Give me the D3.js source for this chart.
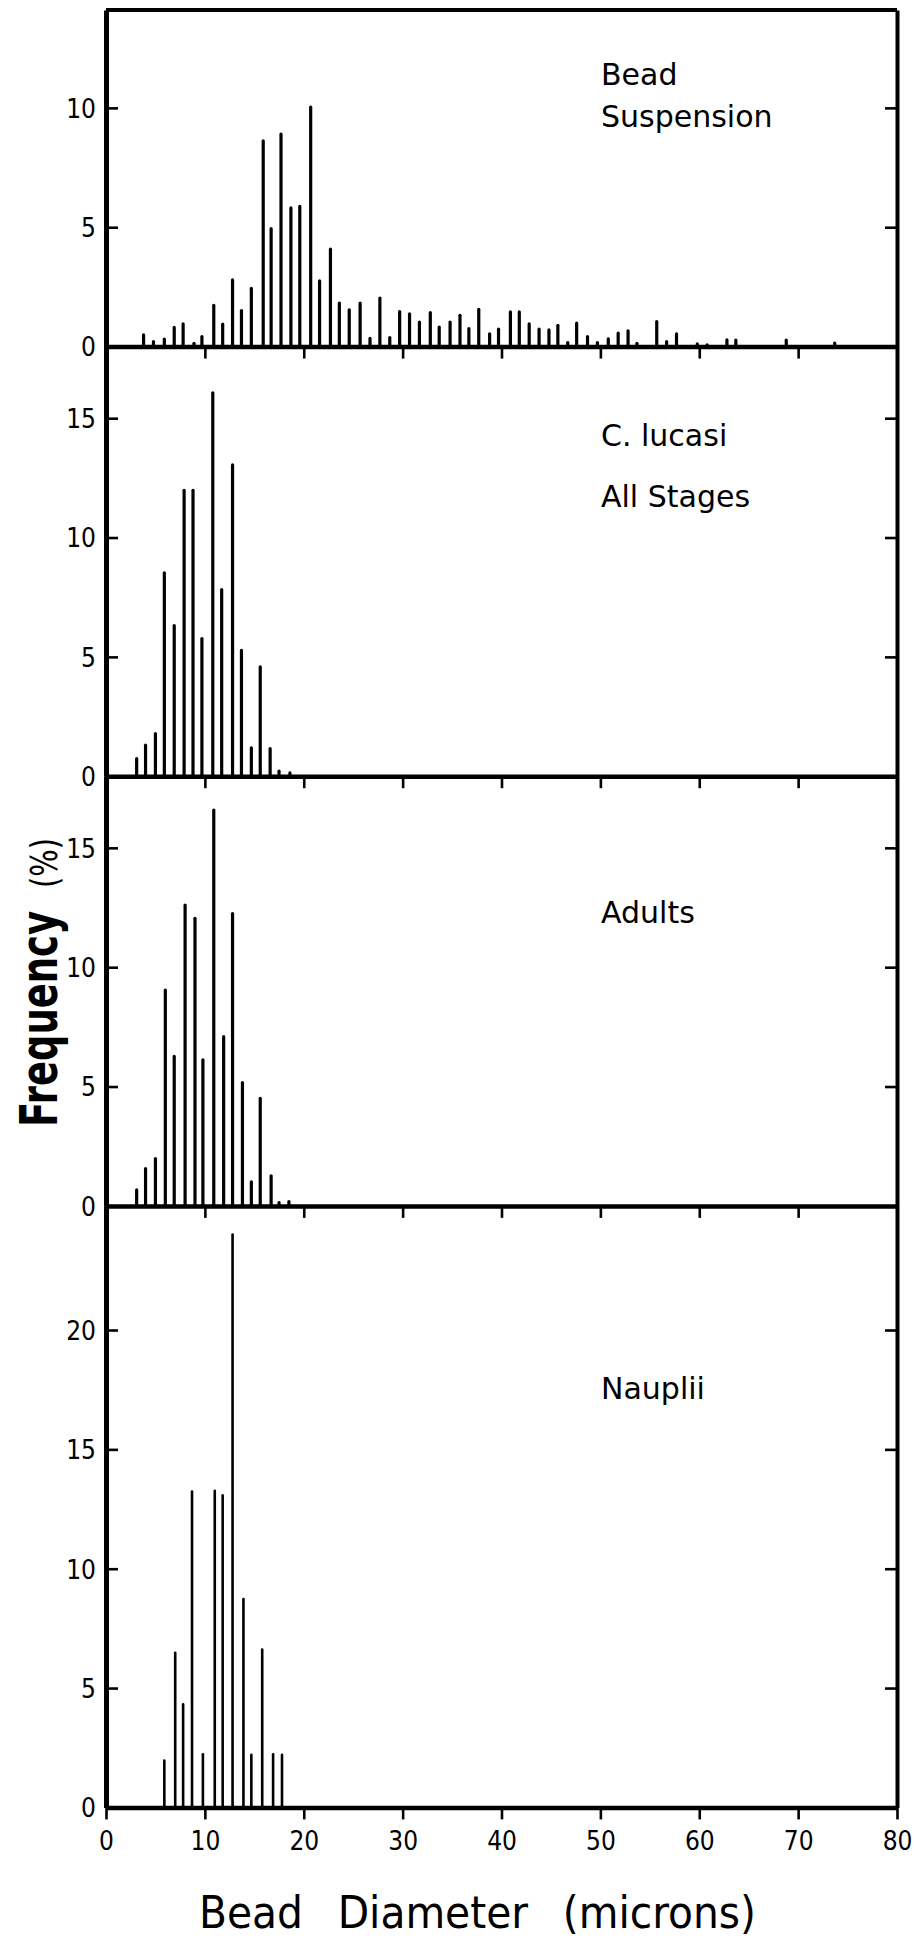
<!DOCTYPE html>
<html>
<head>
<meta charset="utf-8">
<script src="https://cdn.jsdelivr.net/npm/d3@7"></script>
<style>
  body { margin: 0; background: #fff; }
  svg text { font-family: "DejaVu Sans", sans-serif; fill: #000; }
  .axis path, .axis line { stroke: #000; }
  .axis text { font-family: "DejaVu Sans Condensed", "DejaVu Sans", sans-serif; font-size: 26px; }
</style>
</head>
<body>
<div id="chart"></div>
<script>
// Values: bead diameter (microns) and frequency (%).
var suspensionDiam = [3.8, 4.8, 5.9, 6.9, 7.8, 8.9, 9.7, 10.9, 11.8, 12.8, 13.7, 14.7, 15.9, 16.7, 17.7, 18.7, 19.6, 20.7, 21.6, 22.7,
  23.6, 24.6, 25.7, 26.7, 27.7, 28.7, 29.7, 30.7, 31.7, 32.8, 33.7, 34.8, 35.8, 36.7, 37.7, 38.8, 39.7, 40.9, 41.8, 42.8,
  43.8, 44.8, 45.7, 46.7, 47.6, 48.7, 49.7, 50.8, 51.8, 52.8, 53.7, 55.7, 56.7, 57.7, 59.8, 60.8, 62.8, 63.7, 68.8, 73.7];
var suspensionPct = [0.49, 0.21, 0.31, 0.8, 0.95, 0.14, 0.42, 1.73, 0.94, 2.79, 1.51, 2.44, 8.62, 4.94, 8.9, 5.81, 5.87, 10.03, 2.75, 4.08,
  1.82, 1.54, 1.82, 0.34, 2.03, 0.38, 1.47, 1.37, 1.02, 1.42, 0.82, 1.03, 1.31, 0.75, 1.56, 0.53, 0.73, 1.45, 1.45, 0.95,
  0.73, 0.7, 0.89, 0.17, 0.98, 0.42, 0.17, 0.32, 0.56, 0.66, 0.14, 1.05, 0.21, 0.53, 0.11, 0.07, 0.28, 0.27, 0.27, 0.15];

var allStagesDiam = [3.1, 4.0, 5.0, 5.9, 6.9, 7.9, 8.8, 9.7, 10.8, 11.7, 12.8, 13.7, 14.7, 15.6, 16.6, 17.5, 18.6];
var allStagesPct = [0.74, 1.3, 1.79, 8.52, 6.31, 11.98, 11.98, 5.77, 16.06, 7.82, 13.04, 5.27, 1.19, 4.58, 1.16, 0.21, 0.14];

var adultsDiam = [3.1, 4.0, 5.0, 6.0, 6.9, 8.0, 9.0, 9.8, 10.9, 11.9, 12.8, 13.8, 14.7, 15.6, 16.7, 17.5, 18.5];
var adultsPct = [0.67, 1.56, 1.98, 9.04, 6.26, 12.6, 12.05, 6.12, 16.58, 7.09, 12.25, 5.17, 1.01, 4.51, 1.26, 0.14, 0.18];

var naupliiDiam = [5.9, 7.0, 7.8, 8.7, 9.8, 11.0, 11.8, 12.8, 13.9, 14.7, 15.8, 16.9, 17.8];
var naupliiPct = [1.96, 6.48, 4.32, 13.23, 2.23, 13.26, 13.08, 24.0, 8.73, 2.2, 6.61, 2.23, 2.2];

var panelNames = [["Bead", "Suspension"], ["C. lucasi", "All Stages"], ["Adults"], ["Nauplii"]];
var panelYTicks = [[0, 5, 10], [0, 5, 10, 15], [0, 5, 10, 15], [0, 5, 10, 15, 20]];
var panelYMax = [14.1, 18, 18, 25.2];
var xTickValues = [0, 10, 20, 30, 40, 50, 60, 70, 80];

var xTitle = "Bead Diameter (microns)";
var yTitle = "Frequency";
var yUnit = "(%)";

// Layout
var W = 914, H = 1942;
var plotTop = 10;
var pxPerUnit = 23.87;
var labelX = 601;
var labelBaselines = [[85, 127], [446, 507], [923], [1399]];

var svg = d3.select("#chart").append("svg")
  .attr("width", W)
  .attr("height", H);

var xScale = d3.scaleLinear()
  .domain([0, 80])
  .range([106, 897]);

var series = [
  [suspensionDiam, suspensionPct],
  [allStagesDiam, allStagesPct],
  [adultsDiam, adultsPct],
  [naupliiDiam, naupliiPct]
];

var panelY = plotTop;
series.forEach(function(s, i) {
  var h = panelYMax[i] * pxPerUnit;
  var g = svg.append("g").attr("transform", "translate(0," + panelY + ")");
  var yScale = d3.scaleLinear().domain([0, panelYMax[i]]).range([h, 0]);
  var pts = s[0].map(function(d, j) { return { x: d, y: s[1][j] }; });

  // spikes
  g.selectAll(".spike")
    .data(pts)
    .enter().append("line")
    .attr("class", "spike")
    .attr("x1", function(d) { return xScale(d.x); })
    .attr("x2", function(d) { return xScale(d.x); })
    .attr("y1", yScale(0))
    .attr("y2", function(d) { return yScale(d.y); })
    .attr("stroke", "#000")
    .attr("stroke-width", i == 3 ? 2.6 : 3.2)
    .attr("stroke-linecap", "round");

  // left axis, ticks point inward
  var left = g.append("g")
    .attr("class", "axis")
    .attr("transform", "translate(" + xScale(0) + ",0)")
    .call(d3.axisLeft(yScale).tickValues(panelYTicks[i]).tickSize(-12).tickSizeOuter(0).tickPadding(10));
  left.select(".domain").attr("stroke-width", 5);
  left.selectAll(".tick line").attr("stroke-width", 2.6);
  left.selectAll("text").attr("dy", "0.36em");

  // right border with inward ticks
  var right = g.append("g")
    .attr("class", "axis")
    .attr("transform", "translate(" + xScale(80) + ",0)")
    .call(d3.axisRight(yScale).tickValues(panelYTicks[i].slice(1)).tickSize(-12).tickSizeOuter(0).tickFormat(""));
  right.select(".domain").attr("stroke-width", 4);
  right.selectAll(".tick line").attr("stroke-width", 2.6);

  // bottom axis, ticks hang down into the next panel
  var xAxis = d3.axisBottom(xScale).tickValues(xTickValues).tickSize(12).tickSizeOuter(0).tickPadding(12);
  if (i < 3) xAxis.tickFormat("");
  var bottom = g.append("g")
    .attr("class", "axis")
    .attr("transform", "translate(0," + h + ")")
    .call(xAxis);
  bottom.select(".domain").attr("stroke-width", 4.5);
  bottom.selectAll(".tick line").attr("stroke-width", 2.6);

  if (i == 0) {
    g.append("line")
      .attr("x1", xScale(0)).attr("x2", xScale(80))
      .attr("y1", 0).attr("y2", 0)
      .attr("stroke", "#000")
      .attr("stroke-width", 4);
  }

  // panel name
  panelNames[i].forEach(function(t, k) {
    svg.append("text")
      .attr("x", labelX)
      .attr("y", labelBaselines[i][k])
      .style("font-size", "30px")
      .text(t);
  });

  panelY += h;
});

// x title
svg.append("text")
  .attr("x", 199)
  .attr("y", 1928)
  .attr("textLength", 557)
  .attr("lengthAdjust", "spacingAndGlyphs")
  .style("font-size", "45px")
  .style("word-spacing", "24px")
  .text(xTitle);

// y title, rotated
svg.append("text")
  .attr("transform", "translate(57,1127) rotate(-90)")
  .attr("textLength", 216)
  .attr("lengthAdjust", "spacingAndGlyphs")
  .style("font-size", "52px")
  .style("font-weight", "bold")
  .text(yTitle);

svg.append("text")
  .attr("transform", "translate(57,888) rotate(-90)")
  .attr("textLength", 50)
  .attr("lengthAdjust", "spacingAndGlyphs")
  .style("font-size", "38px")
  .text(yUnit);
</script>
</body>
</html>
